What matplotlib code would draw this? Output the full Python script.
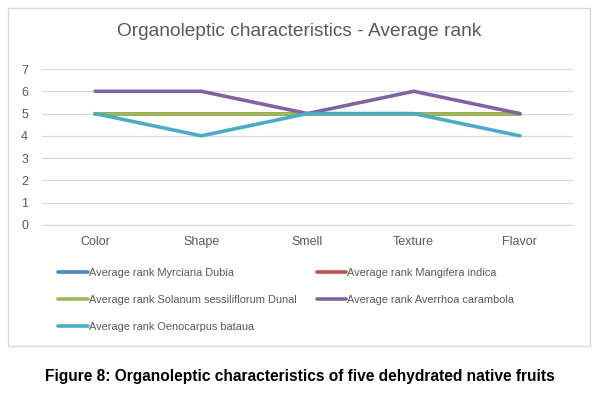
import matplotlib
matplotlib.use("Agg")
import matplotlib.pyplot as plt
from matplotlib.patches import Rectangle

categories = ["Color", "Shape", "Smell", "Texture", "Flavor"]
series_names = [
    "Average rank Myrciaria Dubia",
    "Average rank Mangifera indica",
    "Average rank Solanum sessiliflorum Dunal",
    "Average rank Averrhoa carambola",
    "Average rank Oenocarpus bataua",
]
myrciaria = [5, 5, 5, 5, 5]
mangifera = [5, 5, 5, 5, 5]
solanum = [5, 5, 5, 5, 5]
averrhoa = [6, 6, 5, 6, 5]
oenocarpus = [5, 4, 5, 5, 4]
colors = ["#4F81BD", "#C0504D", "#9BBB59", "#8064A2", "#4BACC6"]
title = "Organoleptic characteristics - Average rank"
caption = "Figure 8: Organoleptic characteristics of five dehydrated native fruits"

plt.rcParams['font.family'] = ['Liberation Sans', 'DejaVu Sans']
fig = plt.figure(figsize=(5.99, 3.98), dpi=100)
W, H = 599, 398

fig.patches.append(Rectangle((8 / W, 1 - 346 / H), 582 / W, 338 / H,
                             transform=fig.transFigure, fill=False,
                             edgecolor="#D9D9D9", linewidth=1))

ax = fig.add_axes([42 / W, 1 - 225 / H, (573 - 42) / W, (225 - 69) / H])
x = list(range(len(categories)))
data = [myrciaria, mangifera, solanum, averrhoa, oenocarpus]
handles = []
for vals, c, name in zip(data, colors, series_names):
    h, = ax.plot(x, vals, color=c, linewidth=2.6, solid_capstyle='round', label=name)
    handles.append(h)

ax.set_xlim(-0.5, 4.5)
ax.set_ylim(0, 7)
ax.set_yticks(range(0, 8))
ax.grid(axis='y', color="#D9D9D9", linewidth=0.9)
ax.set_axisbelow(True)
for s in ax.spines.values():
    s.set_visible(False)
ax.spines['bottom'].set_visible(True)
ax.spines['bottom'].set_color("#D9D9D9")
ax.set_xticks(x)
ax.set_xticklabels(categories)
ax.tick_params(axis='both', length=0, colors="#595959", labelsize=9)
ax.tick_params(axis='x', pad=8)
ax.tick_params(axis='y', pad=10)

fig.text(0.5, 1 - 32 / H, title, ha='center', va='center', fontsize=13.8, color="#595959")

order = [0, 2, 4, 1, 3]
leg = fig.legend([handles[i] for i in order], [series_names[i] for i in order],
                 ncol=2, loc='upper left', bbox_to_anchor=(48 / W, 1 - 258 / H),
                 frameon=False, fontsize=7.9, handlelength=2.7, handletextpad=0.1,
                 columnspacing=1.85, labelspacing=1.55, labelcolor="#595959")

fig.text(0.5, 1 - 377 / H, caption, ha='center', va='center', fontsize=11.2,
         fontweight='bold', color="black")

fig.savefig("out.png", dpi=100)
